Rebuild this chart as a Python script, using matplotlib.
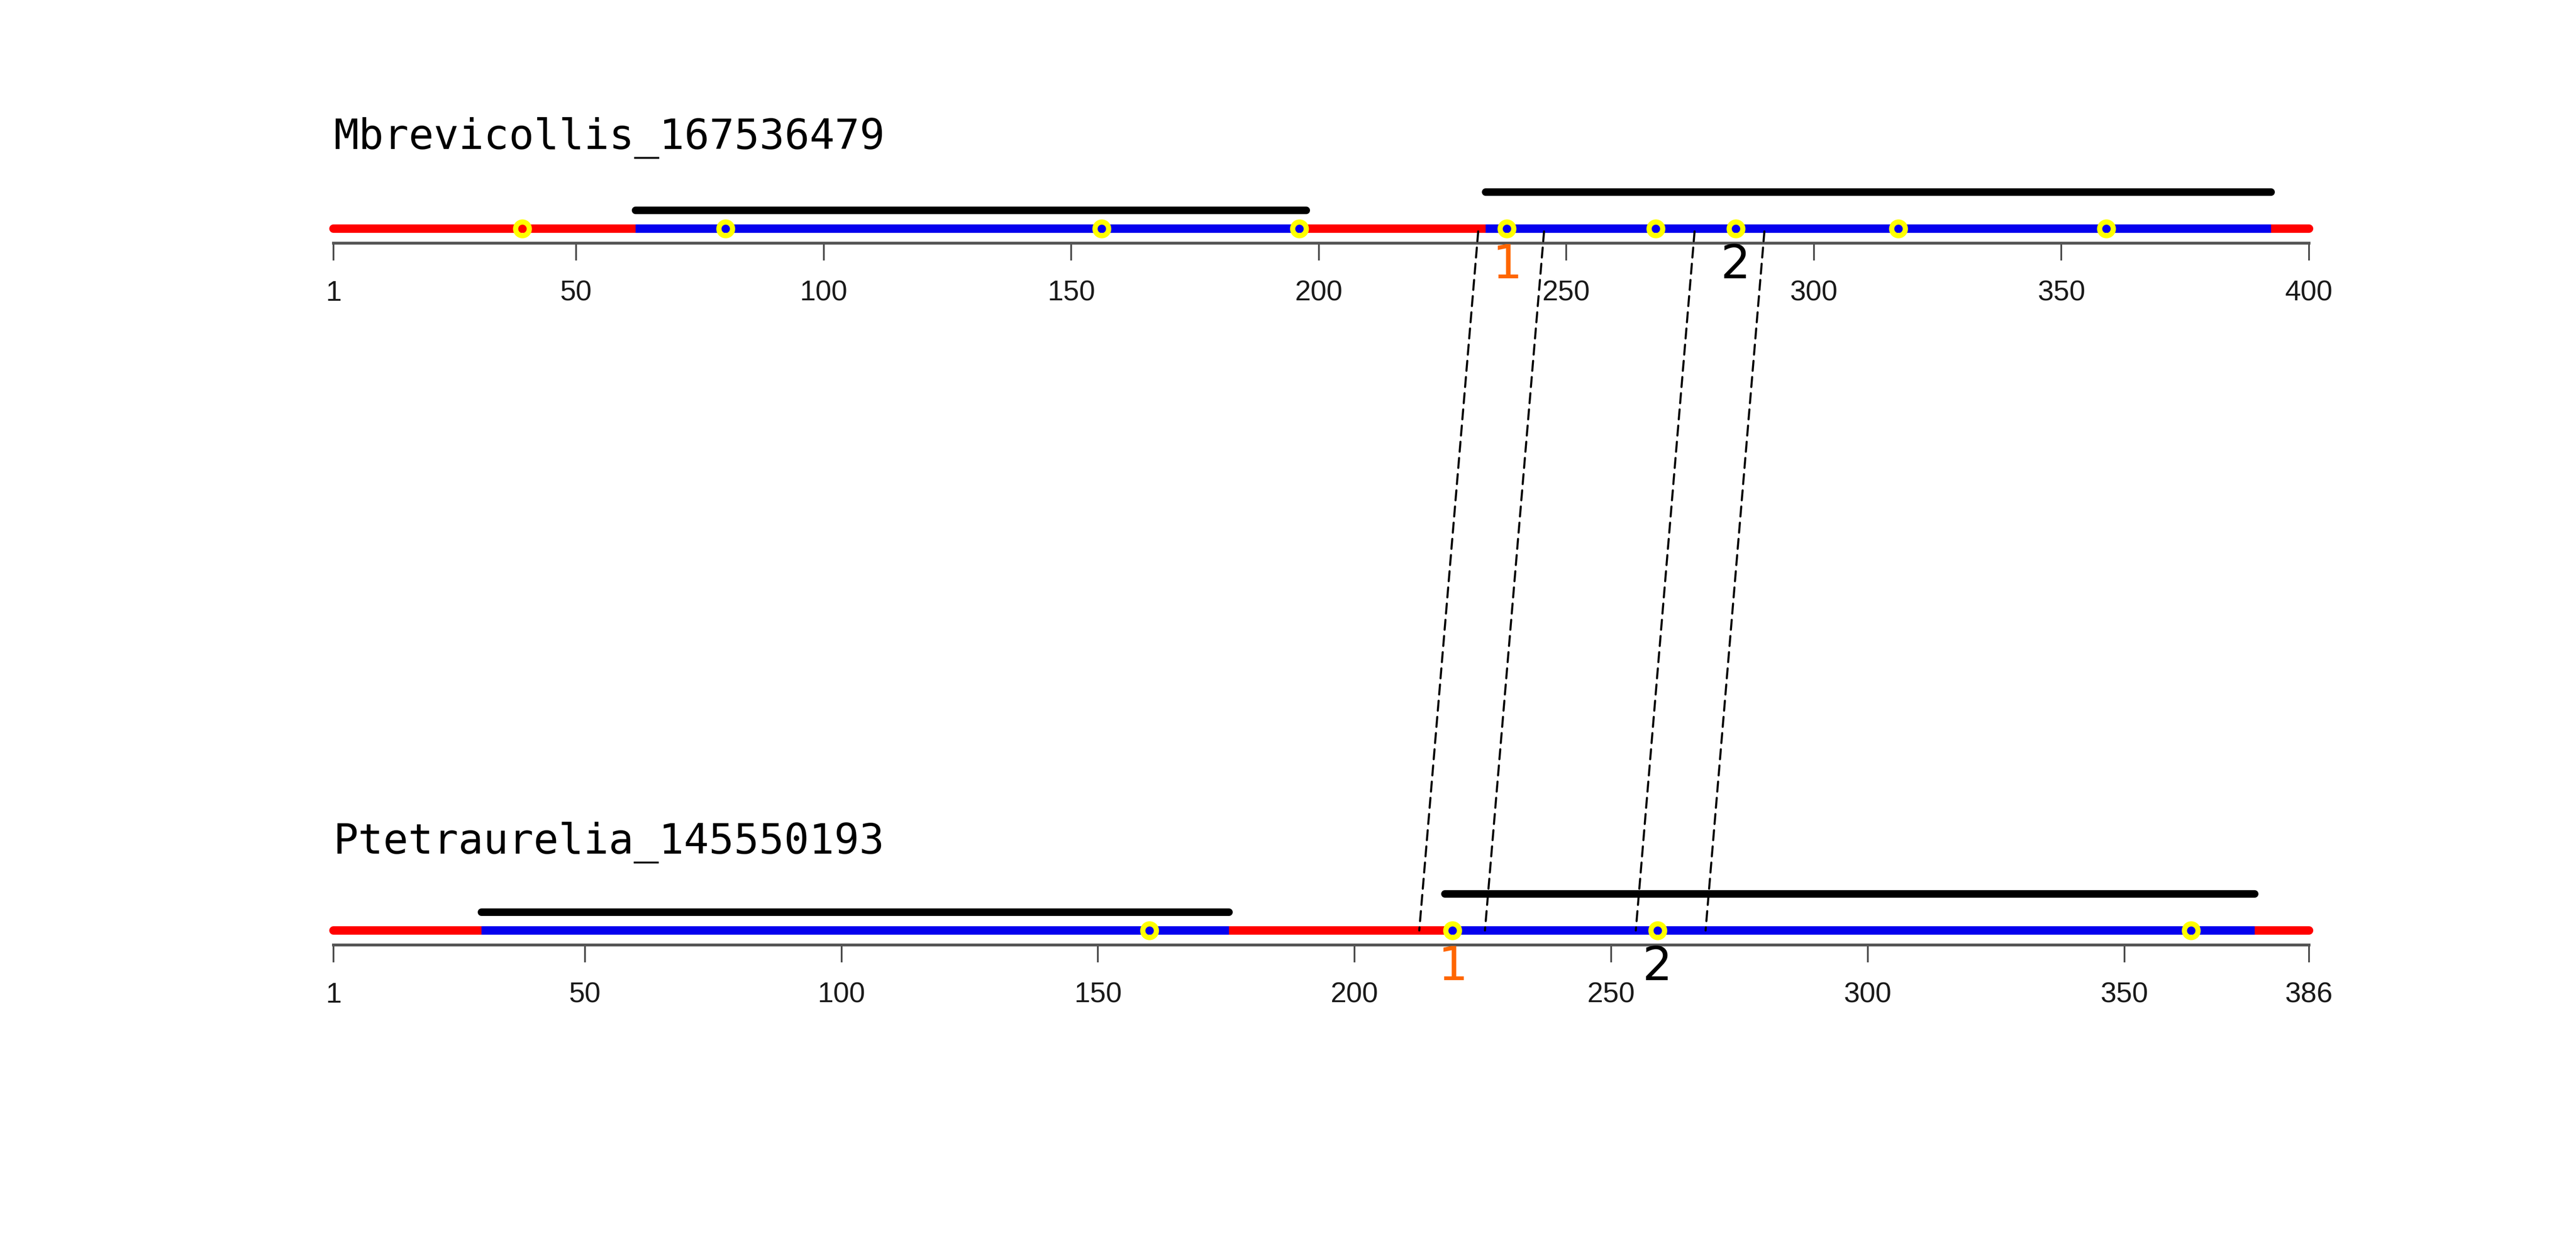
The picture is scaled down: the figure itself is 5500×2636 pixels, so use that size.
import matplotlib
matplotlib.use("Agg")
import matplotlib.pyplot as plt
from matplotlib.patches import ConnectionPatch

# --- data ---
top_name = "Mbrevicollis_167536479"
top_length = 400
top_ticks = [1, 50, 100, 150, 200, 250, 300, 350, 400]
top_domains = [(62.0, 197.5), (233.7, 392.3)]
top_domain_levels = [1, 2]
top_sites = [39.1, 80.2, 156.1, 196.1, 238.0, 268.0, 284.2, 317.0, 359.0]
top_motifs = [(232.2, 245.5), (275.9, 290.0)]
top_motif_label_pos = [238.0, 284.2]

bot_name = "Ptetraurelia_145550193"
bot_length = 386
bot_ticks = [1, 50, 100, 150, 200, 250, 300, 350, 386]
bot_domains = [(29.8, 175.5), (217.6, 375.4)]
bot_domain_levels = [1, 2]
bot_sites = [160.0, 219.1, 259.0, 363.0]
bot_motifs = [(212.6, 225.4), (254.8, 268.4)]
bot_motif_label_pos = [219.1, 259.0]

motif_labels = ["1", "2"]
motif_colors = ["#ff6600", "black"]

W, H = 5500, 2636
DPI = 200
UNIT = 39.0  # pixels per y unit
Y_LO, Y_HI = -1.5, 3.0


def make_axes(fig, bar_px_from_top):
    bar_from_bottom = H - bar_px_from_top
    bottom = bar_from_bottom + Y_LO * UNIT
    height = (Y_HI - Y_LO) * UNIT
    return fig.add_axes([712 / W, bottom / H, (4930 - 712) / W, height / H])


def draw_track(ax, name, length, ticks, domains, levels, sites,
               label_pos, title_y):
    ax.set_xlim(1, length)
    ax.set_ylim(Y_LO, Y_HI)
    ax.patch.set_alpha(0)

    # backbone: red, blue over the domain stretches
    ax.plot([1, length], [0, 0], color="#ff0000", lw=6.5,
            solid_capstyle="round", clip_on=False, zorder=2)
    for (a, b), lev in zip(domains, levels):
        ax.plot([a, b], [0, 0], color="#0500ee", lw=6.5,
                solid_capstyle="butt", clip_on=False, zorder=3)
        ax.plot([a, b], [lev, lev], color="black", lw=5.8,
                solid_capstyle="round", clip_on=False, zorder=3)

    ax.plot(sites, [0] * len(sites), linestyle="none", marker="o",
            ms=10.5, mfc="none", mec="#ffff00", mew=4,
            clip_on=False, zorder=4)

    for pos, lab, col in zip(label_pos, motif_labels, motif_colors):
        ax.text(pos, -2.0, lab, color=col, fontsize=36,
                family="DejaVu Sans", ha="center", va="center",
                clip_on=False)

    ax.text(1, title_y, name, fontsize=32, family="DejaVu Sans Mono",
            ha="left", va="baseline", clip_on=False)

    # R-style bottom axis
    for side in ["top", "right", "left"]:
        ax.spines[side].set_visible(False)
    sp = ax.spines["bottom"]
    sp.set_position(("data", -0.8))
    sp.set_bounds(1, length)
    sp.set_color("#555555")
    sp.set_linewidth(2.2)
    ax.set_yticks([])
    ax.set_xticks(ticks)
    ax.set_xticklabels([str(t) for t in ticks])
    ax.tick_params(axis="x", direction="out", length=13.3, width=1.3,
                   color="#444444", pad=15, labelsize=22,
                   labelcolor="#1a1a1a")
    for lbl in ax.get_xticklabels():
        lbl.set_family("Liberation Sans")


def main() -> None:
    fig = plt.figure(figsize=(W / DPI, H / DPI), dpi=DPI)
    fig.patch.set_facecolor("white")

    ax_top = make_axes(fig, 488)
    ax_bot = make_axes(fig, 1986)

    draw_track(ax_top, top_name, top_length, top_ticks, top_domains,
               top_domain_levels, top_sites, top_motif_label_pos, 4.35)
    draw_track(ax_bot, bot_name, bot_length, bot_ticks, bot_domains,
               bot_domain_levels, bot_sites, bot_motif_label_pos, 4.2)

    # dashed links between matching motif boundaries
    for (ta, tb), (ba, bb) in zip(top_motifs, bot_motifs):
        for xt, xb in [(ta, ba), (tb, bb)]:
            con = ConnectionPatch(xyA=(xt, -0.15), coordsA=ax_top.transData,
                                  xyB=(xb, 0.0), coordsB=ax_bot.transData,
                                  color="black", lw=1.6,
                                  linestyle=(0, (4.8, 3.0)), zorder=5)
            fig.add_artist(con)

    fig.savefig("out.png", dpi=DPI, facecolor="white")
    plt.close(fig)


if __name__ == "__main__":
    main()
